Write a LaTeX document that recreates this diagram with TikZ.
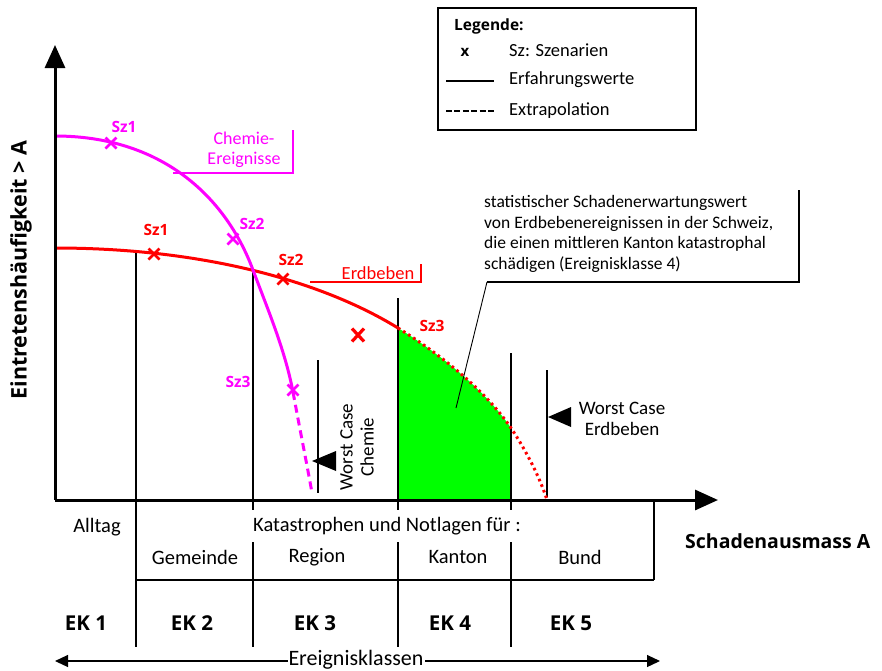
\documentclass[tikz,border=0pt]{standalone}
\usepackage{fontspec}
\setmainfont{Carlito}
\newfontfamily\boldfam{Open Sans}
\usetikzlibrary{arrows.meta,calc}
\definecolor{mag}{RGB}{255,0,255}
\definecolor{rot}{RGB}{255,0,0}
\definecolor{gruen}{RGB}{0,255,0}
\tikzset{
  axis/.style={line width=3pt,-{Triangle[length=23pt,width=20pt]}},
  thinline/.style={line width=1.4pt},
  midline/.style={line width=2pt},
  thickline/.style={line width=2.6pt},
  curve/.style={line width=3pt},
  lbl/.style={font=\fontsize{18.5}{22}\selectfont, inner sep=0pt},
  tlbl/.style={font=\fontsize{20.5}{24}\selectfont, inner sep=0pt},
  clbl/.style={font=\fontsize{17.5}{20.8}\selectfont, inner sep=0pt},
  blbl/.style={font=\fontsize{20.5}{24}\boldfam\bfseries, inner sep=0pt},
  szlbl/.style={font=\fontsize{15.5}{19}\boldfam\bfseries, inner sep=0pt},
  cross/.style={line width=2.6pt},
  tri/.style={fill=black, draw=none},
}
\newcommand{\szcross}[2]{\draw[cross,#2] ($(#1)+(-5.5,-5.5)$) -- ($(#1)+(5.5,5.5)$) ($(#1)+(-5.5,5.5)$) -- ($(#1)+(5.5,-5.5)$);}
\begin{document}
\begin{tikzpicture}[x=1pt,y=-1pt]
\useasboundingbox (0,0) rectangle (882,670);
% ---------- coordinates ----------
\coordinate (O) at (55,500);
\coordinate (ytip) at (55,45);
\coordinate (xtip) at (718,500);
% red curve
\coordinate (r0) at (55,248);
\coordinate (r1) at (398,328);
\coordinate (r2) at (511,428);
\coordinate (r3) at (547,500);
% magenta curve
\coordinate (m0) at (55,136);
\coordinate (m1) at (253,270);
\coordinate (m2) at (293,392);
\coordinate (m3) at (312,493);
% green area
\fill[gruen] (r1) .. controls (440,354) and (485,390) .. (r2) -- (511,500) -- (398,500) -- cycle;
% ---------- vertical lines ----------
\coordinate (v1t) at (136,253); \coordinate (v1b) at (136,647);
\coordinate (v2t) at (253,270); \coordinate (v2m) at (253,510);
\coordinate (v2u) at (253,542); \coordinate (v2b) at (253,647);
\coordinate (v3t) at (398,298); \coordinate (v3m) at (398,510);
\coordinate (v3u) at (398,542); \coordinate (v3b) at (398,647);
\coordinate (v4t) at (511,353); \coordinate (v4m) at (511,510);
\coordinate (v4u) at (511,542); \coordinate (v4b) at (511,647);
\draw[thinline] (v1t) -- (v1b);
\draw[thinline] (v2t) -- (v2m) (v2u) -- (v2b);
\draw[thickline] (v3t) -- (v3m) (v3u) -- (v3b);
\draw[midline] (v4t) -- (v4m) (v4u) -- (v4b);
% table
\coordinate (tbl) at (136,580); \coordinate (tbr) at (654,580); \coordinate (ttr) at (654,500);
\draw[thickline] (tbl) -- (tbr);
\draw[thinline] (tbr) -- (ttr);
% worst case lines
\coordinate (wc1t) at (318,360); \coordinate (wc1b) at (318,493);
\coordinate (wc2t) at (547,370); \coordinate (wc2b) at (547,497);
\draw[thinline] (wc1t) -- (wc1b);
\draw[thinline] (wc2t) -- (wc2b);
\fill[tri] (312,461) -- (336,451) -- (336,471) -- cycle;
\fill[tri] (548,417) -- (571,407) -- (571,427) -- cycle;
% ---------- curves ----------
\draw[curve,rot] (r0) .. controls (200,248) and (320,280) .. (r1);
\draw[curve,rot,line width=3pt,dash pattern=on 2.6pt off 3.4pt] (r1) .. controls (440,354) and (485,390) .. (r2) .. controls (527,452) and (540,478) .. (r3);
\draw[curve,mag] (m0) .. controls (160,136) and (225,195) .. (m1) .. controls (268,310) and (285,350) .. (m2);
\draw[curve,mag,dash pattern=on 8pt off 5pt] (m2) .. controls (300,430) and (308,470) .. (m3);
% ---------- axes ----------
\draw[axis] (O) -- (ytip);
\draw[axis] (O) -- (xtip);
% ---------- crosses ----------
\coordinate (mx1) at (111,143);
\coordinate (mx2) at (233,239);
\coordinate (mx3) at (293,390);
\coordinate (rx1) at (154,254);
\coordinate (rx2) at (283,279);
\coordinate (rx3) at (358,335);
\szcross{mx1}{mag}
\szcross{mx2}{mag}
\szcross{mx3}{mag}
\szcross{rx1}{rot}
\szcross{rx2}{rot}
\draw[cross,rot,line width=3.2pt] ($(rx3)+(-6,-6.5)$) -- ($(rx3)+(6,6.5)$) ($(rx3)+(-6,6.5)$) -- ($(rx3)+(6,-6.5)$);
% Sz labels
\node[szlbl,mag] (ms1) at (124,127) {Sz1};
\node[szlbl,mag] (ms2) at (252,224) {Sz2};
\node[szlbl,mag] (ms3) at (238,382) {Sz3};
\node[szlbl,rot] (rs1) at (156,230) {Sz1};
\node[szlbl,rot] (rs2) at (291,260) {Sz2};
\node[szlbl,rot] (rs3) at (432,326) {Sz3};
% curve labels
\node[lbl,mag,align=center,font=\fontsize{18}{20}\selectfont] (chem) at (244,150) {Chemie-\\Ereignisse};
\coordinate (cl0) at (173,173); \coordinate (cl1) at (293,173); \coordinate (cl2) at (293,130);
\draw[mag,line width=1.2pt] (cl0) -- (cl1) -- (cl2);
\node[lbl,rot] (erd) at (378,273) {Erdbeben};
\coordinate (el0) at (310,282); \coordinate (el1) at (421,282); \coordinate (el2) at (421,264);
\draw[rot,line width=1.2pt] (el0) -- (el1) -- (el2);
% worst case labels
\node[lbl,rotate=90,align=center,font=\fontsize{19}{21}\selectfont] (wcc) at (357,447) {Worst Case\\Chemie};
\node[lbl,align=center,font=\fontsize{19}{21}\selectfont] (wce) at (622,419) {Worst Case\\Erdbeben};
% callout
\node[clbl,align=left,anchor=north west] (call) at (484,195) {statistischer Schadenerwartungswert\\von Erdbebenereignissen in der Schweiz,\\die einen mittleren Kanton katastrophal\\schädigen (Ereignisklasse 4)};
\coordinate (c0) at (799,190); \coordinate (c1) at (799,282); \coordinate (c2) at (487,282); \coordinate (c3) at (456,408);
\draw[line width=1.2pt] (c0) -- (c1) -- (c2);
\draw[line width=0.9pt] (c2) -- (c3);
% legend
\coordinate (lg0) at (438,8); \coordinate (lg1) at (696,130);
\draw[line width=1.2pt] (lg0) rectangle (lg1);
\node[blbl,anchor=west,font=\fontsize{15.5}{19}\boldfam\bfseries] (legt) at (454,26) {Legende:};
\node[blbl,font=\fontsize{15}{18}\boldfam\bfseries] (legx) at (465,52) {x};
\node[lbl,anchor=west] (leg1) at (509,50) {Sz: Szenarien};
\node[lbl,anchor=west] (leg2) at (509,80) {Erfahrungswerte};
\node[lbl,anchor=west] (leg3) at (509,111) {Extrapolation};
\coordinate (ls0) at (446,81); \coordinate (ls1) at (494,81);
\coordinate (ld0) at (446,111); \coordinate (ld1) at (494,111);
\draw[line width=2.4pt] (ls0) -- (ls1);
\draw[line width=2.4pt,dash pattern=on 6pt off 2.4pt] (ld0) -- (ld1);
% axis labels
\node[blbl,rotate=90,font=\fontsize{21.5}{24}\boldfam\bfseries] (ylab) at (21,270) {Eintretenshäufigkeit > A};
\node[blbl,anchor=west,font=\fontsize{19.5}{23}\boldfam\bfseries] (xlab) at (685,541) {Schadenausmass A};
% table texts
\node[tlbl] (allt) at (97,527) {Alltag};
\node[tlbl] (kat) at (387,526) {Katastrophen und Notlagen für :};
\node[tlbl] (gem) at (195,557) {Gemeinde};
\node[tlbl] (reg) at (317,557) {Region};
\node[tlbl] (kan) at (458,557) {Kanton};
\node[tlbl] (bun) at (580,557) {Bund};
\node[blbl] (ek1) at (86,623) {EK 1};
\node[blbl] (ek2) at (192,623) {EK 2};
\node[blbl] (ek3) at (315,623) {EK 3};
\node[blbl] (ek4) at (450,623) {EK 4};
\node[blbl] (ek5) at (571,623) {EK 5};
% Ereignisklassen arrow
\coordinate (ea0) at (55,661); \coordinate (ea1) at (660,661);
\draw[line width=1.2pt,{Triangle[length=13pt,width=12pt]}-{Triangle[length=13pt,width=12pt]}] (ea0) -- (ea1);
\node[tlbl,fill=white,inner xsep=1pt,font=\fontsize{22}{24}\selectfont] (ek) at (356,660) {Ereignisklassen};
\end{tikzpicture}
\end{document}
